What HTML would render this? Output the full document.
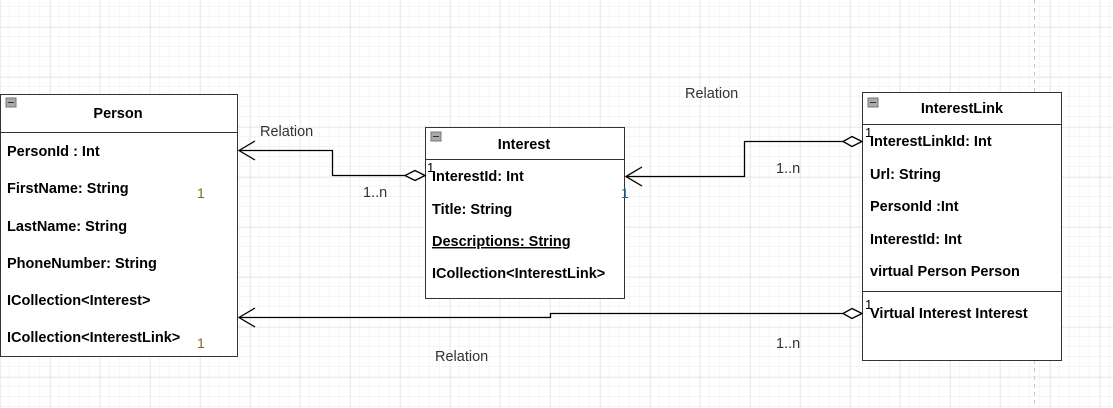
<!DOCTYPE html>
<html><head><meta charset="utf-8"><style>
html,body{margin:0;padding:0;background:#fff}
svg{display:block}
text{font-family:"Liberation Sans",Arial,sans-serif}
.b{font-weight:bold;font-size:14.5px;fill:#000}
.l{font-size:14.5px;fill:#333}
</style></head><body>
<svg width="1113" height="408" xmlns="http://www.w3.org/2000/svg">
<defs>
<pattern id="mi" width="10" height="10" patternUnits="userSpaceOnUse" x="0" y="7">
<path d="M10 0V10M0 10H10" fill="none" stroke="#ececec" stroke-width="1"/></pattern>
<pattern id="ma" width="50" height="50" patternUnits="userSpaceOnUse" x="0.5" y="27.5">
<path d="M0 0V50M0 0H50" fill="none" stroke="#dcdcdc" stroke-width="1"/></pattern>
</defs>
<rect width="1113" height="408" fill="url(#mi)"/>
<rect width="1113" height="408" fill="url(#ma)"/>
<line x1="1034.5" y1="0" x2="1034.5" y2="408" stroke="#ccc" stroke-dasharray="4,4"/>

<!-- Person -->
<rect x="0.5" y="94.5" width="237" height="262" fill="#fff" stroke="#333"/>
<line x1="0" y1="132.5" x2="238" y2="132.5" stroke="#333"/>
<rect x="6" y="98" width="10" height="9" fill="#aaa" stroke="#777"/><line x1="8" y1="102.5" x2="14" y2="102.5" stroke="#333"/>
<text x="118" y="118" class="b" text-anchor="middle">Person</text>
<text x="7" y="156" class="b">PersonId : Int</text>
<text x="7" y="193" class="b">FirstName: String</text>
<text x="7" y="231" class="b">LastName: String</text>
<text x="7" y="268" class="b">PhoneNumber: String</text>
<text x="7" y="305" class="b">ICollection&lt;Interest&gt;</text>
<text x="7" y="342" class="b">ICollection&lt;InterestLink&gt;</text>

<!-- Interest -->
<rect x="425.5" y="127.5" width="199" height="171" fill="#fff" stroke="#333"/>
<line x1="425" y1="159.5" x2="625" y2="159.5" stroke="#333"/>
<rect x="431" y="132" width="10" height="9" fill="#aaa" stroke="#777"/><line x1="433" y1="136.5" x2="439" y2="136.5" stroke="#333"/>
<text x="524" y="149" class="b" text-anchor="middle">Interest</text>
<text x="432" y="181" class="b">InterestId: Int</text>
<text x="432" y="214" class="b">Title: String</text>
<text x="432" y="246" class="b" text-decoration="underline">Descriptions: String</text>
<text x="432" y="278" class="b">ICollection&lt;InterestLink&gt;</text>

<!-- InterestLink -->
<rect x="862.5" y="92.5" width="199" height="268" fill="#fff" stroke="#333"/>
<line x1="862" y1="124.5" x2="1062" y2="124.5" stroke="#333"/>
<line x1="862" y1="291.5" x2="1062" y2="291.5" stroke="#333"/>
<rect x="868" y="98" width="10" height="9" fill="#aaa" stroke="#777"/><line x1="870" y1="102.5" x2="876" y2="102.5" stroke="#333"/>
<text x="962" y="113" class="b" text-anchor="middle">InterestLink</text>
<text x="870" y="146" class="b">InterestLinkId: Int</text>
<text x="870" y="179" class="b">Url: String</text>
<text x="870" y="211" class="b">PersonId :Int</text>
<text x="870" y="244" class="b">InterestId: Int</text>
<text x="870" y="276" class="b">virtual Person Person</text>
<text x="870" y="318" class="b">Virtual Interest Interest</text>

<!-- connectors -->
<g fill="none" stroke="#000" stroke-width="1.3">
<path d="M405 175.5H332.5V150.5H239"/>
<path d="M255 141L239 150.5L255 160"/>
<path d="M425 175.5L415 170.5L405 175.5L415 180.5Z" fill="#fff"/>
<path d="M843 141.5H744.5V176.5H626"/>
<path d="M642 167L626 176.5L642 186"/>
<path d="M862 141.5L852 136.5L843 141.5L852 146.5Z" fill="#fff"/>
<path d="M843 313.5H550.5V317.5H239"/>
<path d="M255 308L239 317.5L255 327"/>
<path d="M862 313.5L852 308.5L843 313.5L852 318.5Z" fill="#fff"/>
</g>
<text x="260" y="136" class="l">Relation</text>
<text x="685" y="98" class="l">Relation</text>
<text x="435" y="361" class="l">Relation</text>
<text x="363" y="197" class="l">1..n</text>
<text x="776" y="173" class="l">1..n</text>
<text x="776" y="348" class="l">1..n</text>
<text x="197" y="198" font-size="14" fill="#8a6a00">1</text>
<text x="197" y="348" font-size="14" fill="#8a6a00">1</text>
<text x="427" y="172" font-size="13" fill="#000">1</text>
<text x="621" y="198" font-size="14" fill="#0070c0">1</text>
<text x="865" y="137" font-size="13" fill="#000">1</text>
<text x="865" y="309" font-size="13" fill="#000">1</text>
</svg>
</body></html>
